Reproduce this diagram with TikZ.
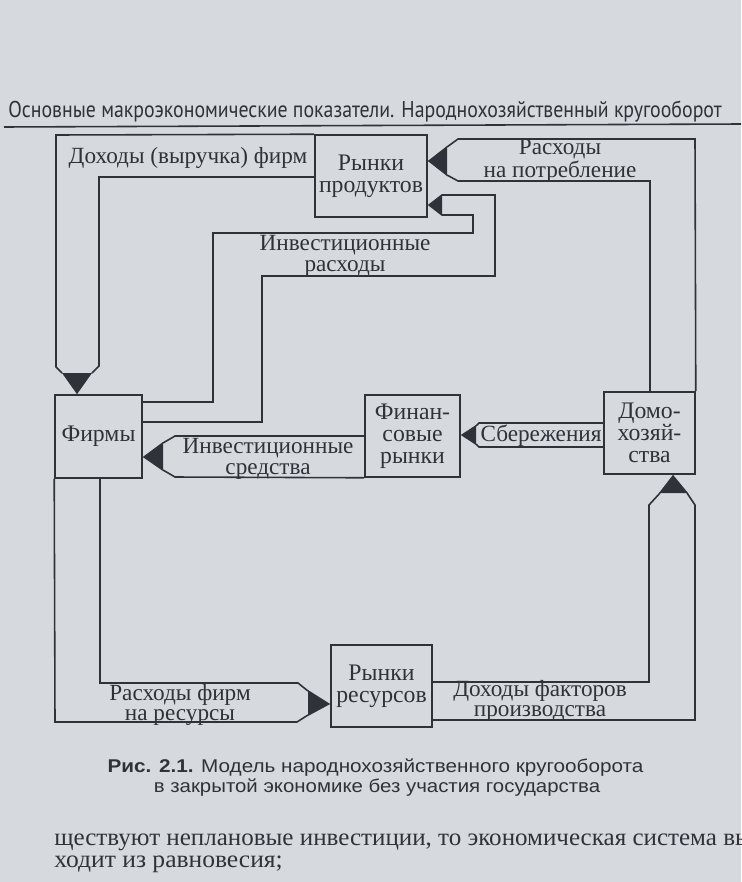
\documentclass[tikz,border=0pt]{standalone}
\usepackage{fontspec}
\setmainfont{Liberation Serif}
\setsansfont{Liberation Sans}
\newfontfamily\headsans{PT Sans}
\definecolor{ink}{RGB}{48,50,58}
\definecolor{paper}{RGB}{214,217,222}
\newcommand{\diagfont}{\fontsize{13.5}{12.5}\selectfont}
\newcommand{\flowfont}{\fontsize{13.2}{11.6}\selectfont}
\begin{document}
\begin{tikzpicture}[x=0.02cm,y=-0.02cm,
  every node/.style={text=ink},
  box/.style={draw=ink,line width=0.9pt,inner sep=0pt,align=center,font=\diagfont},
  band/.style={draw=ink,line width=0.9pt},
  tip/.style={fill=ink},
  flowtext/.style={align=center,inner sep=0pt,font=\flowfont}]
  \useasboundingbox[fill=paper] (0,0) rectangle (741,882);
  \node[anchor=west,inner sep=0pt] (head) at (8,112)
    {\resizebox{406pt}{\height}{\headsans\fontsize{13}{13}\selectfont Основные макроэкономические показатели. Народнохозяйственный кругооборот}};
  \draw[ink,line width=0.9pt] (4,127) -- (741,124);

  \node[box,minimum width=2.24cm,minimum height=1.64cm] (prod) at (371,176) {Рынки\\продуктов};
  \node[box,minimum width=1.74cm,minimum height=1.66cm] (firms) at (98.5,436.5) {Фирмы};
  \node[box,minimum width=1.9cm,minimum height=1.64cm] (fin) at (412.5,436) {Финан-\\совые\\рынки};
  \node[box,minimum width=1.82cm,minimum height=1.64cm] (hh) at (649.5,433) {Домо-\\хозяй-\\ства};
  \node[box,minimum width=2.02cm,minimum height=1.64cm] (res) at (381.5,686) {Рынки\\ресурсов};

  \draw[band] (prod.north west) -- (56,135) -- (56,367) -- (62,373);
  \draw[band] (prod.west |- 0,177) -- (99,177) -- (99,366) -- (92,373);
  \fill[tip] (62,373) -- (92,373) -- (firms.north -| 77,0) -- cycle;
  \node[flowtext] (revtxt) at (188,158) {Доходы (выручка) фирм};

  \draw[band] (hh.north east) -- (695,139) -- (458,139) -- (447,147);
  \draw[band] (hh.north -| 650,0) -- (650,181) -- (458,181) -- (447,175);
  \fill[tip] (447,146) -- (447,176) -- (prod.east |- 0,161) -- cycle;
  \node[flowtext] (constxt) at (560,161) {Расходы\\на потребление};

  \draw[band] (firms.east |- 0,402) -- (213,402) -- (213,233) -- (473,233) -- (473,215) -- (442,215);
  \draw[band] (firms.east |- 0,422) -- (262,422) -- (262,276) -- (495,276) -- (495,195) -- (442,195);
  \fill[tip] (442,194) -- (442,216) -- (prod.east |- 0,205) -- cycle;
  \node[flowtext] (invtxt) at (345,256) {Инвестиционные\\расходы};

  \draw[band] (hh.west |- 0,423) -- (479,423) -- (476,426);
  \draw[band] (hh.west |- 0,447) -- (479,447) -- (476,444);
  \fill[tip] (476,425) -- (476,445) -- (fin.east |- 0,435) -- cycle;
  \node[flowtext] (savtxt) at (541,436) {Сбережения};

  \draw[band] (fin.west |- 0,436) -- (175,436) -- (163,443);
  \draw[band] (fin.south west) -- (175,477) -- (163,470);
  \fill[tip] (163,442) -- (163,471) -- (firms.east |- 0,457) -- cycle;
  \node[flowtext] (fundtxt) at (268,459) {Инвестиционные\\средства};

  \draw[band] (firms.south west) -- (55,722) -- (297,722) -- (308,715);
  \draw[band] (firms.south -| 100,0) -- (100,683) -- (298,683) -- (308,691);
  \fill[tip] (308,690) -- (308,716) -- (res.west |- 0,704) -- cycle;
  \node[flowtext] (costtxt) at (180,705) {Расходы фирм\\на ресурсы};

  \draw[band] (res.east |- 0,682) -- (649,682) -- (649,505) -- (660,493);
  \draw[band] (res.east |- 0,720) -- (695,720) -- (695,505) -- (687,493);
  \fill[tip] (659,493) -- (688,493) -- (hh.south -| 673,0) -- cycle;
  \node[flowtext] (inctxt) at (540,701) {Доходы факторов\\производства};

  \node[inner sep=0pt] (cap1) at (375.5,768)
    {\resizebox{305pt}{\height}{\sffamily\fontsize{10.5}{10.5}\selectfont\textbf{Рис. 2.1.} Модель народнохозяйственного кругооборота}};
  \node[inner sep=0pt] (cap2) at (377,788)
    {\resizebox{254pt}{\height}{\sffamily\fontsize{10.5}{10.5}\selectfont в закрытой экономике без участия государства}};
  \node[anchor=west,inner sep=0pt] (body1) at (54,842)
    {\resizebox{397pt}{\height}{\fontsize{14}{14}\selectfont ществуют неплановые инвестиции, то экономическая система вы}};
  \node[anchor=west,inner sep=0pt] (body2) at (54,864)
    {\resizebox{130pt}{\height}{\fontsize{14}{14}\selectfont ходит из равновесия;}};
\end{tikzpicture}
\end{document}
